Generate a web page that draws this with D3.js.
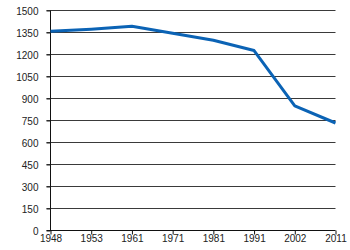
<!DOCTYPE html>
<html>
<head>
<meta charset="utf-8">
<script src="https://cdn.jsdelivr.net/npm/d3@7"></script>
<style>
  body { margin: 0; background: #fff; }
  svg text { font-family: "Liberation Sans", Arial, sans-serif; }
</style>
</head>
<body>
<script>
// donnees
const years = ["1948", "1953", "1961", "1971", "1981", "1991", "2002", "2011"];
const values = [1358, 1372, 1392, 1345, 1297, 1227, 850, 733];
const yTicks = [0, 150, 300, 450, 600, 750, 900, 1050, 1200, 1350, 1500];

// dimensions
let margin = {top: 10.5, right: 14.5, bottom: 19.5, left: 50.5};
let width = 350 - margin.left - margin.right;
let height = 250 - margin.top - margin.bottom;

let svg = d3.select("body").append("svg")
            .attr("width", 350)
            .attr("height", 250)
            .append("g")
            .attr("transform", `translate(${margin.left}, ${margin.top})`);

let x = d3.scalePoint()
          .domain(years)
          .range([0, width]);

let y = d3.scaleLinear()
          .domain([0, 1500])
          .range([height, 0]);

// grille
svg.append("g")
   .selectAll("line")
   .data(yTicks.filter(d => d > 0))
   .join("line")
   .attr("x1", -4)
   .attr("x2", width)
   .attr("y1", d => y(d))
   .attr("y2", d => y(d))
   .attr("stroke", "#3a3a3a")
   .attr("stroke-width", 1);

// axe Y
const groupY = svg.append("g")
   .call(d3.axisLeft(y).tickValues(yTicks).tickFormat(d3.format("d")).tickSize(4).tickPadding(8));
groupY.selectAll("line").attr("stroke", "#222");
groupY.select(".domain").attr("stroke", "#111").attr("d", `M0,${height}V0`);
groupY.selectAll("text")
      .style("font-size", "10px")
      .attr("fill", "#222")
      .attr("dy", "0.42em");

// axe X
const groupX = svg.append("g")
   .attr("transform", `translate(0, ${height})`)
   .call(d3.axisBottom(x).tickSize(4).tickPadding(0));
groupX.selectAll("line").attr("stroke", "#111");
groupX.select(".domain").attr("stroke", "#111").attr("d", `M-4,0H${width}`);
groupX.selectAll("text")
      .style("font-size", "10px")
      .attr("fill", "#222");

// ligne
let valueLine = d3.line()
                  .x((d, i) => x(years[i]))
                  .y(d => y(d));

svg.append("path")
   .attr("d", valueLine(values))
   .attr("fill", "none")
   .attr("stroke", "#0b63b5")
   .attr("stroke-width", 3)
   .attr("stroke-linejoin", "round");
</script>
</body>
</html>
